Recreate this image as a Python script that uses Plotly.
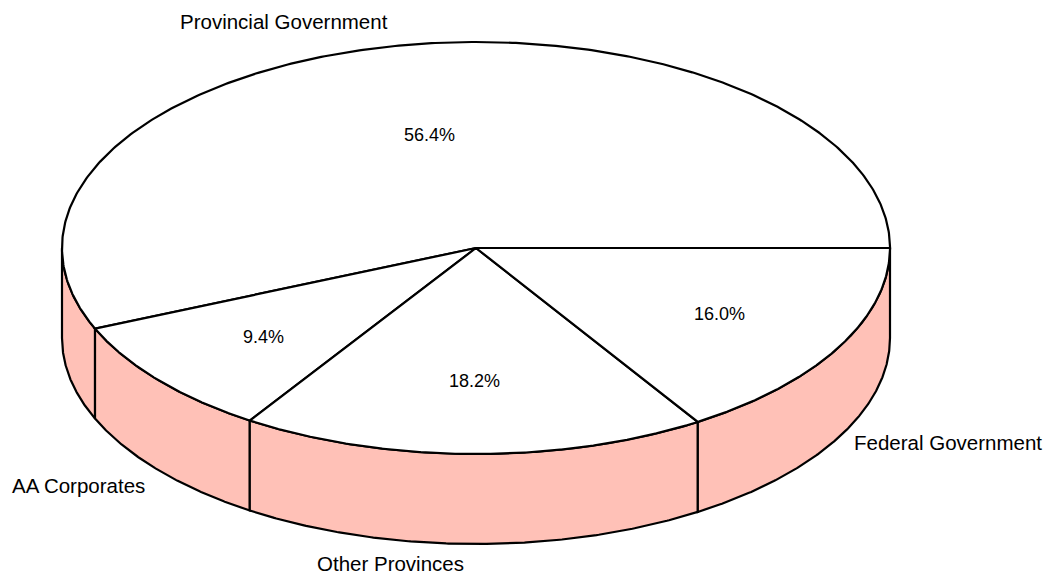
import numpy as np
import plotly.graph_objects as go

# Portfolio composition
categories = ["Provincial Government", "AA Corporates", "Other Provinces", "Federal Government"]
shares = [56.4, 9.4, 18.2, 16.0]
pct_labels = ["56.4%", "9.4%", "18.2%", "16.0%"]

# Pie geometry (pixel space of the page)
W, H = 1050, 575
CX, CY = 476, 248
RX, RY = 414, 206
DEPTH = 90
SIDE_FILL = "rgb(255,193,183)"
LINE = dict(color="black", width=2.2)
FONT_OUT = dict(family="Liberation Sans, Arial, sans-serif", size=20.5, color="black")
FONT_IN = dict(family="Liberation Sans, Arial, sans-serif", size=18, color="black")

# label placement: radial fraction for the inner % labels
inner_frac = [0.56, 0.67, 0.645, 0.67]
# outer category label anchors (x, y)
outer_pos = [(284, 21), (78, 485), (390, 563), (948, 442)]


def ell(t_deg, dy=0.0):
    t = np.radians(t_deg)
    return CX + RX * np.cos(t), CY - RY * np.sin(t) + dy


bounds = np.concatenate([[0.0], np.cumsum(shares) / np.sum(shares) * 360.0])

fig = go.Figure()

# side wall: only the front half (180..360 deg) is visible
for i in range(len(shares)):
    s, e = max(bounds[i], 180.0), min(bounds[i + 1], 360.0)
    if e <= s:
        continue
    t = np.linspace(s, e, 200)
    xt, yt = ell(t)
    xb, yb = ell(t[::-1], DEPTH)
    fig.add_trace(go.Scatter(
        x=np.concatenate([xt, xb, xt[:1]]),
        y=np.concatenate([yt, yb, yt[:1]]),
        mode="lines", fill="toself", fillcolor=SIDE_FILL,
        line=LINE, hoverinfo="skip", showlegend=False))

# top face slices
for i in range(len(shares)):
    t = np.linspace(bounds[i], bounds[i + 1], 400)
    xa, ya = ell(t)
    fig.add_trace(go.Scatter(
        x=np.concatenate([[CX], xa, [CX]]),
        y=np.concatenate([[CY], ya, [CY]]),
        mode="lines", fill="toself", fillcolor="white",
        line=LINE, hoverinfo="skip", showlegend=False))

annotations = []
for i, lab in enumerate(pct_labels):
    mid = np.radians((bounds[i] + bounds[i + 1]) / 2)
    x = CX + RX * inner_frac[i] * np.cos(mid)
    y = CY - RY * inner_frac[i] * np.sin(mid)
    annotations.append(dict(x=x, y=y, xref="x", yref="y", text=lab,
                            showarrow=False, font=FONT_IN))
for name, (x, y) in zip(categories, outer_pos):
    annotations.append(dict(x=x, y=y, xref="x", yref="y", text=name,
                            showarrow=False, font=FONT_OUT))

fig.update_layout(
    width=W, height=H,
    margin=dict(l=0, r=0, t=0, b=0),
    paper_bgcolor="white", plot_bgcolor="white",
    xaxis=dict(range=[0, W], visible=False, fixedrange=True),
    yaxis=dict(range=[H, 0], visible=False, fixedrange=True),
    annotations=annotations,
)

fig.write_html("out.html")
